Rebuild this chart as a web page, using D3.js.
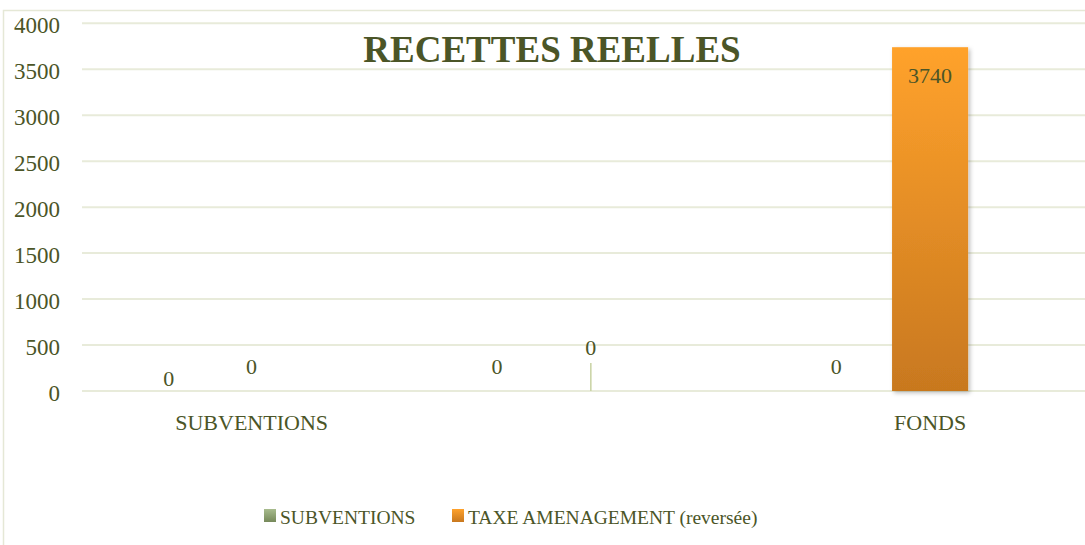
<!DOCTYPE html>
<html lang="fr">
<head>
<meta charset="utf-8">
<style>
body { margin:0; background:#fff; }
svg text { font-family: "Liberation Serif", "Times New Roman", serif; fill:#4b5527; }
</style>
<script src="https://cdn.jsdelivr.net/npm/d3@7"></script>
</head>
<body>
<div id="chart"></div>
<script>

var width = 1085
var height = 545

// data
var categories = ["SUBVENTIONS", "", "FONDS"]
var seriesNames = ["SUBVENTIONS", "TAXE AMENAGEMENT (reversée)"]
var subventions = [0, 0, 0]
var taxe = [0, 0, 3740]
var yTicks = [0, 500, 1000, 1500, 2000, 2500, 3000, 3500, 4000]

var values = [subventions, taxe]

var svg = d3.select('#chart').append("svg")
    .attr("width", width)
    .attr("height", height);

var defs = svg.append("defs");

function grad(id, top, bottom) {
  var g = defs.append("linearGradient").attr("id", id)
    .attr("x1", 0).attr("y1", 0).attr("x2", 0).attr("y2", 1);
  g.append("stop").attr("offset", "0%").attr("stop-color", top);
  g.append("stop").attr("offset", "100%").attr("stop-color", bottom);
}
grad("gGreen", "#a8bc8e", "#76895a");
grad("gOrange", "#ffa22c", "#c8781f");

defs.append("filter").attr("id", "shadow")
    .attr("x", "-10%").attr("y", "-10%").attr("width", "130%").attr("height", "130%")
  .append("feDropShadow")
    .attr("dx", 2).attr("dy", 2).attr("stdDeviation", 2)
    .attr("flood-color", "#000").attr("flood-opacity", 0.25);

var fills = ["url(#gGreen)", "url(#gOrange)"];

// outer frame (partly cut off on right / bottom)
svg.append("path")
    .attr("d", "M3.5,560 L3.5,10.5 L1100,10.5")
    .attr("fill", "none")
    .attr("stroke", "#e5e8d6")
    .attr("stroke-width", 1.5);

var y = d3.scaleLinear().domain([0, 4000]).range([391, 23.3]);

var x0 = d3.scaleBand()
    .domain(d3.range(categories.length))
    .range([82, 1099.75]);

var x1 = d3.scaleBand()
    .domain(d3.range(seriesNames.length))
    .range([-132, 38])
    .paddingInner(0.19);

// gridlines
svg.append("g").selectAll("line")
  .data(yTicks)
  .enter().append("line")
    .attr("x1", 82).attr("x2", width)
    .attr("y1", function(d) { return y(d) }).attr("y2", function(d) { return y(d) })
    .attr("stroke", "#e8ebda")
    .attr("stroke-width", 2);

// y axis labels
var ya = svg.append("g")
    .attr("transform", "translate(82,0)")
    .call(d3.axisLeft(y).tickValues(yTicks).tickFormat(d3.format("d")).tickSize(0).tickPadding(22));
ya.select(".domain").remove();
ya.selectAll("text")
    .style("font-size", "23px")
    .attr("dy", "0.4em");

// x axis labels
var xa = svg.append("g")
    .attr("transform", "translate(0,391)")
    .call(d3.axisBottom(x0).tickSize(0).tickFormat(function(i) { return categories[i] }));
xa.select(".domain").remove();
xa.selectAll("text")
    .style("font-size", "22px")
    .attr("y", 39).attr("dy", 0);

// bars
var rows = [];
categories.forEach(function(c, i) {
  values.forEach(function(v, s) {
    rows.push({cat: i, s: s, v: v[i]});
  });
});

function cx(d) { return x0(d.cat) + x0.bandwidth() / 2 + x1(d.s) + x1.bandwidth() / 2 }

svg.append("g").selectAll("rect")
  .data(rows.filter(function(d) { return d.v > 0 }))
  .enter().append("rect")
    .attr("x", function(d) { return cx(d) - x1.bandwidth() / 2 })
    .attr("width", x1.bandwidth())
    .attr("y", function(d) { return y(d.v) })
    .attr("height", function(d) { return y(0) - y(d.v) })
    .attr("fill", function(d) { return fills[d.s] })
    .attr("filter", "url(#shadow)");

// hand moved labels (label nudges as in original)
function nudge(d) {
  if (d.cat == 0 && d.s == 0) return [11, 12];
  if (d.cat == 1 && d.s == 1) return [0, -19];
  return [0, 0];
}

// leader line for the moved label
rows.filter(function(d) { return d.cat == 1 && d.s == 1 }).forEach(function(d) {
  svg.append("line")
    .attr("x1", cx(d)).attr("x2", cx(d))
    .attr("y1", y(d.v) - 28).attr("y2", y(d.v))
    .attr("stroke", "#c8d2a2")
    .attr("stroke-width", 1.5);
});

svg.append("g").selectAll("text")
  .data(rows)
  .enter().append("text")
    .attr("text-anchor", "middle")
    .style("font-size", "22px")
    .attr("x", function(d) { return cx(d) + nudge(d)[0] })
    .attr("y", function(d) {
      if (d.v > 0) return y(d.v) + 36;
      return y(d.v) - 17 + nudge(d)[1];
    })
    .text(function(d) { return d.v });

// title
svg.append("text")
    .attr("x", 552).attr("y", 62)
    .attr("text-anchor", "middle")
    .style("font-size", "37px")
    .style("font-weight", "bold")
    .text("RECETTES REELLES");

// legend
var legX = [264, 452];
var leg = svg.append("g").selectAll("g")
  .data(seriesNames)
  .enter().append("g")
    .attr("transform", function(d, i) { return "translate(" + legX[i] + ",509)" });
leg.append("rect")
    .attr("width", 12).attr("height", 13)
    .attr("fill", function(d, i) { return fills[i] });
leg.append("text")
    .attr("x", 16).attr("y", 15)
    .style("font-size", "19.5px")
    .text(function(d) { return d });

</script>
</body>
</html>
